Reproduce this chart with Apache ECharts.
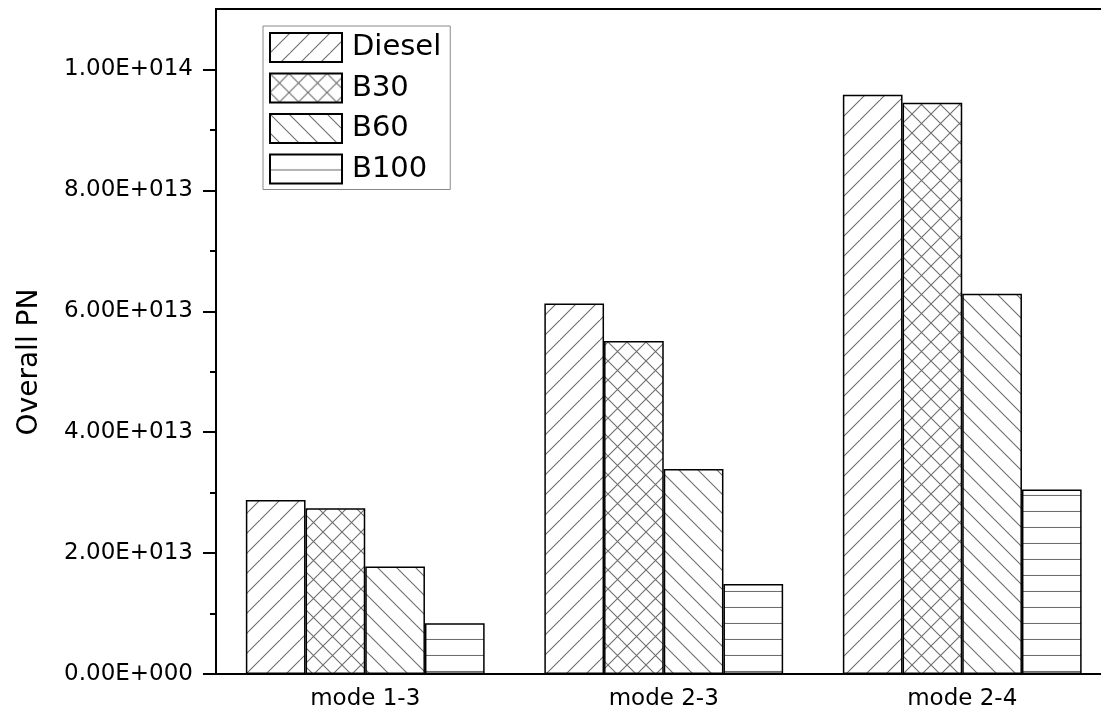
<!DOCTYPE html>
<html>
<head>
<meta charset="utf-8">
<script src="https://cdn.jsdelivr.net/npm/echarts@6/dist/echarts.min.js"></script>
<style>
html,body{margin:0;padding:0;background:#fff;}
#chart{width:1101px;height:720px;}
</style>
</head>
<body>
<div id="chart"></div>
<script>
// ---- data ----
const categories = ['mode 1-3', 'mode 2-3', 'mode 2-4'];
const seriesNames = ['Diesel', 'B30', 'B60', 'B100'];
const diesel = [2.88e13, 6.13e13, 9.58e13];
const b30    = [2.74e13, 5.51e13, 9.45e13];
const b60    = [1.78e13, 3.39e13, 6.29e13];
const b100   = [0.84e13, 1.49e13, 3.05e13];
const majorTicks = [0, 2e13, 4e13, 6e13, 8e13, 1e14];
const minorTicks = [1e13, 3e13, 5e13, 7e13, 9e13];
const yMax = 1.1e14;
const yTitle = 'Overall PN';

// ---- hatch patterns ----
function makePattern(kind) {
  const s = kind === 'h' ? 16 : (kind === 'f' ? 20 : 19);
  const c = document.createElement('canvas');
  c.width = s; c.height = s;
  const g = c.getContext('2d');
  g.fillStyle = '#fff';
  g.fillRect(0, 0, s, s);
  g.strokeStyle = '#6e6e6e';
  g.lineWidth = 1.1;
  g.beginPath();
  if (kind === 'f' || kind === 'x') {
    g.moveTo(-1, s + 1); g.lineTo(s + 1, -1);
    g.moveTo(-s - 1, s + 1); g.lineTo(1, -1);
    g.moveTo(s - 1, 2 * s + 1); g.lineTo(2 * s + 1, s - 1);
  }
  if (kind === 'b' || kind === 'x') {
    g.moveTo(-1, -1); g.lineTo(s + 1, s + 1);
    g.moveTo(-s - 1, -1); g.lineTo(1, s + 1);
    g.moveTo(s - 1, -1); g.lineTo(2 * s + 1, s + 1);
  }
  if (kind === 'h') {
    g.moveTo(0, s - 0.5); g.lineTo(s, s - 0.5);
  }
  g.stroke();
  return { image: c, repeat: 'repeat' };
}
const patterns = [makePattern('f'), makePattern('x'), makePattern('b'), makePattern('h')];
const values = [diesel, b30, b60, b100];

function fmtExp(v) {
  const parts = Number(v).toExponential(2).split('e');
  const sign = parts[1][0] === '-' ? '-' : '+';
  const n = Math.abs(parseInt(parts[1], 10));
  return parts[0] + 'E' + sign + String(n).padStart(3, '0');
}

const FONT = 'DejaVu Sans';
const chart = echarts.init(document.getElementById('chart'), null, { renderer: 'canvas' });

const series = seriesNames.map((name, i) => ({
  name: name,
  type: 'bar',
  data: values[i],
  barGap: '0%',
  barCategoryGap: '20%',
  itemStyle: { color: patterns[i], borderColor: '#000', borderWidth: 1.5 },
  emphasis: { disabled: true },
  animation: false
}));

chart.setOption({
  animation: false,
  backgroundColor: '#fff',
  grid: {
    left: 216, top: 9, right: -10.5, bottom: 46,
    outerBoundsMode: 'none',
    containLabel: false,
    show: true, borderColor: '#000', borderWidth: 2, backgroundColor: 'transparent'
  },
  legend: {
    data: seriesNames,
    orient: 'vertical',
    left: 263, top: 26,
    itemWidth: 72, itemHeight: 29, itemGap: 9.5,
    padding: [6, 9, 5, 6],
    borderColor: '#888', borderWidth: 1,
    backgroundColor: '#fff',
    icon: 'rect',
    selectedMode: false,
    textStyle: { fontFamily: FONT, fontSize: 29, lineHeight: 29, color: '#000', padding: [0, 0, 0, 5] }
  },
  xAxis: {
    type: 'category',
    data: categories,
    boundaryGap: true,
    axisLine: { lineStyle: { color: '#000', width: 2 } },
    axisTick: { alignWithLabel: true, length: 12, lineStyle: { color: '#000', width: 2 } },
    axisLabel: { fontFamily: FONT, fontSize: 23, color: '#000', margin: 14 },
    splitLine: { show: false }
  },
  yAxis: [
    {
      type: 'value', min: 0, max: yMax,
      axisLine: { show: true, lineStyle: { color: '#000', width: 2 } },
      axisTick: { show: true, length: 13, customValues: majorTicks, lineStyle: { color: '#000', width: 2 } },
      axisLabel: { fontFamily: FONT, fontSize: 23, color: '#000', margin: 23,
                   customValues: majorTicks, formatter: fmtExp },
      splitLine: { show: false }
    },
    {
      type: 'value', min: 0, max: yMax, position: 'left',
      axisLine: { show: false },
      axisTick: { show: true, length: 6, customValues: minorTicks, lineStyle: { color: '#000', width: 2 } },
      axisLabel: { show: false },
      splitLine: { show: false }
    }
  ],
  graphic: [{
    type: 'text',
    x: 30, y: 362,
    rotation: Math.PI / 2,
    style: { text: yTitle, fontFamily: FONT, fontSize: 28, fill: '#000',
             align: 'center', verticalAlign: 'middle' }
  }],
  series: series
});
</script>
</body>
</html>
